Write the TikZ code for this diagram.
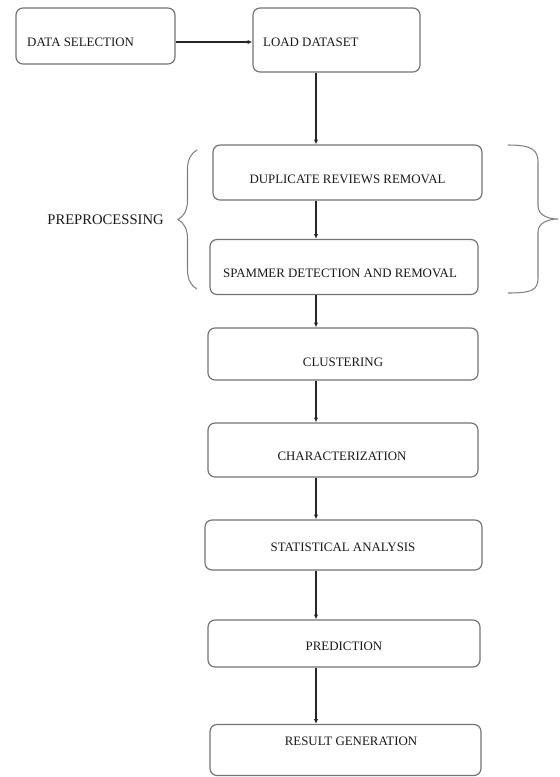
\documentclass[tikz,border=0pt]{standalone}
\usepackage{fontspec}
\setmainfont{Liberation Serif}
\usetikzlibrary{positioning, arrows.meta, decorations.pathreplacing}

\begin{document}
\begin{tikzpicture}[
    x=0.03cm, y=-0.03cm,
    font=\fontsize{11}{13}\selectfont,
    stage/.style={
        draw=black!55, rounded corners=6pt, fill=white, line width=1pt,
        inner sep=0pt,
    },
    caption/.style={text=black!90, inner sep=0pt},
    arrow/.style={-{Latex[length=4pt,width=3.5pt]}, draw=black!85, line width=1pt},
    curly/.style={draw=black!50, line width=0.9pt},
]
\useasboundingbox (0,0) rectangle (560,777);

% --- top row ---
\node[stage, minimum width=4.77cm, minimum height=1.68cm] (sel) at (95.5,36) {};
\node[caption, anchor=west] (selt) at (27,42) {DATA SELECTION};
\node[stage, minimum width=5.01cm, minimum height=1.92cm] (load) at (336.5,40) {};
\node[caption, anchor=west] (loadt) at (263,42) {LOAD DATASET};

% --- preprocessing ---
\node[stage, minimum width=8.07cm, minimum height=1.65cm] (dup) at (347.5,172.5) {};
\node[caption] (dupt) at (347.5,179) {DUPLICATE REVIEWS REMOVAL};
\node[stage, minimum width=8.04cm, minimum height=1.65cm] (spam) at (344,267) {};
\node[caption] (spamt) at (340,273) {SPAMMER DETECTION AND REMOVAL};

% --- remaining stages ---
\node[stage, minimum width=8.1cm, minimum height=1.56cm] (clus) at (343,354) {};
\node[caption] (clust) at (343,362) {CLUSTERING};
\node[stage, minimum width=8.1cm, minimum height=1.62cm] (char) at (343,450) {};
\node[caption] (chart) at (342,456) {CHARACTERIZATION};
\node[stage, minimum width=8.31cm, minimum height=1.5cm] (stat) at (343.5,545) {};
\node[caption] (statt) at (343,547) {STATISTICAL ANALYSIS};
\node[stage, minimum width=8.16cm, minimum height=1.41cm] (pred) at (344,643.5) {};
\node[caption] (predt) at (344,646) {PREDICTION};
\node[stage, minimum width=8.13cm, minimum height=1.53cm] (res) at (345.5,750) {};
\node[caption] (rest) at (351,741) {RESULT GENERATION};

% --- braces ---
\coordinate (lbt) at (197,150);
\coordinate (lbb) at (197,289);
\draw[curly, decorate, decoration={brace, amplitude=0.57cm}] (lbb) -- (lbt);
\draw[curly] (508,145) .. controls (532,145) and (538,150) .. (538,162)
    -- (538,206) .. controls (538,215) and (548,219) .. (558,219)
    .. controls (548,219) and (538,223) .. (538,232)
    -- (538,278) .. controls (538,290) and (532,293) .. (508,293);
\node[caption, anchor=east, font=\fontsize{12.5}{14}\selectfont] (pre) at (164,220) {PREPROCESSING};

% --- connectors ---
\coordinate (spine) at (316,0);
\draw[arrow] ([yshift=-0.18cm]sel.east) -- ([yshift=-0.18cm]sel.east -| load.west);
\draw[arrow] (load.south -| spine) -- (dup.north -| spine);
\draw[arrow] (dup.south -| spine) -- (spam.north -| spine);
\draw[arrow] (spam.south -| spine) -- (clus.north -| spine);
\draw[arrow] (clus.south -| spine) -- (char.north -| spine);
\draw[arrow] (char.south -| spine) -- (stat.north -| spine);
\draw[arrow] (stat.south -| spine) -- (pred.north -| spine);
\draw[arrow] (pred.south -| spine) -- (res.north -| spine);

\end{tikzpicture}
\end{document}
